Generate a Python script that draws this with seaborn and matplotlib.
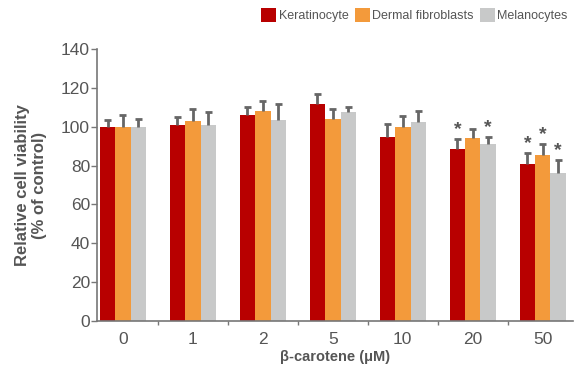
import numpy as np
import pandas as pd
import matplotlib
matplotlib.use('Agg')
import matplotlib.pyplot as plt
import seaborn as sns

# Data
DOSES = ['0', '1', '2', '5', '10', '20', '50']
CELL_TYPES = ['Keratinocyte', 'Dermal fibroblasts', 'Melanocytes']
KERATINOCYTE = [100.0, 101.0, 106.0, 111.5, 94.5, 88.5, 81.0]
FIBROBLAST = [100.0, 103.0, 108.0, 104.0, 100.0, 94.0, 85.5]
MELANOCYTE = [100.0, 101.0, 103.5, 107.5, 102.5, 91.0, 76.0]
KERATINOCYTE_ERR = [3.6, 4.0, 4.3, 5.5, 7.0, 5.0, 5.3]
FIBROBLAST_ERR = [6.0, 6.0, 5.5, 5.0, 5.5, 5.0, 5.4]
MELANOCYTE_ERR = [4.0, 6.5, 8.0, 2.5, 5.5, 3.5, 6.7]
SIGNIFICANT = [
    [False, False, False, False, False, True, True],
    [False, False, False, False, False, False, True],
    [False, False, False, False, False, True, True],
]

COLORS = ['#B80000', '#F39A3B', '#C8C9C9']
TEXT = '#555555'
ERR = '#666666'

errors = [KERATINOCYTE_ERR, FIBROBLAST_ERR, MELANOCYTE_ERR]

df = pd.DataFrame({
    'dose': DOSES * 3,
    'cell': np.repeat(CELL_TYPES, len(DOSES)),
    'viability': KERATINOCYTE + FIBROBLAST + MELANOCYTE,
})

sns.set_style('white')
plt.rcParams['font.family'] = ['Liberation Sans', 'DejaVu Sans']

fig = plt.figure(figsize=(5.74, 3.69), dpi=100)
ax = fig.add_axes([0.169, 0.130, 0.829, 0.737])

sns.barplot(data=df, x='dose', y='viability', hue='cell', order=DOSES,
            hue_order=CELL_TYPES, palette=COLORS, width=0.66, gap=0,
            errorbar=None, saturation=1, linewidth=0, ax=ax)

# upper error bars (stem + top cap only) and significance stars
bar_groups = list(ax.containers)
for i, cont in enumerate(bar_groups):
    xs = np.array([p.get_x() + p.get_width() / 2 for p in cont.patches])
    ys = np.array([p.get_height() for p in cont.patches])
    tops = ys + np.array(errors[i])
    ax.vlines(xs, ys, tops, color=ERR, linewidth=2, zorder=3)
    ax.hlines(tops, xs - 0.05, xs + 0.05, color=ERR, linewidth=2, zorder=3)
    for x, t, s in zip(xs, tops, SIGNIFICANT[i]):
        if s:
            ax.text(x, t + 0.6, '*', ha='center', va='bottom',
                    fontsize=14, color=TEXT, fontweight='bold')

handles, labels = ax.get_legend_handles_labels()
ax.get_legend().remove()
fig.legend(handles, labels, loc='upper right', bbox_to_anchor=(1.0, 0.995),
           ncol=3, frameon=False, fontsize=9, handlelength=1.2,
           handleheight=1.3, handletextpad=0.2, columnspacing=0.5,
           labelcolor=TEXT, borderaxespad=0.1)

ax.set_ylim(0, 140)
ax.set_yticks(range(0, 141, 20))
ax.set_xlim(-0.37, 6.43)
ax.set_xticks(np.arange(0.5, 6, 1), minor=True)

for side in ['top', 'right']:
    ax.spines[side].set_visible(False)
for side in ['left', 'bottom']:
    ax.spines[side].set_color('#777777')
    ax.spines[side].set_linewidth(1.2)

ax.tick_params(axis='y', which='major', length=4, width=1, color='#777777',
               labelsize=12.5, labelcolor=TEXT, left=True, pad=1)
ax.tick_params(axis='x', which='major', length=0, labelsize=12.5,
               labelcolor=TEXT, pad=8)
ax.tick_params(axis='x', which='minor', length=3, width=1, color='#777777',
               bottom=True)

ax.set_xlabel('β-carotene (μM)', fontsize=10.5, fontweight='bold', color=TEXT,
              labelpad=2)
ax.set_ylabel('Relative cell viability\n(% of control)', fontsize=12,
              fontweight='bold', color=TEXT, labelpad=10)

plt.savefig('out.png', dpi=100, facecolor='white')
